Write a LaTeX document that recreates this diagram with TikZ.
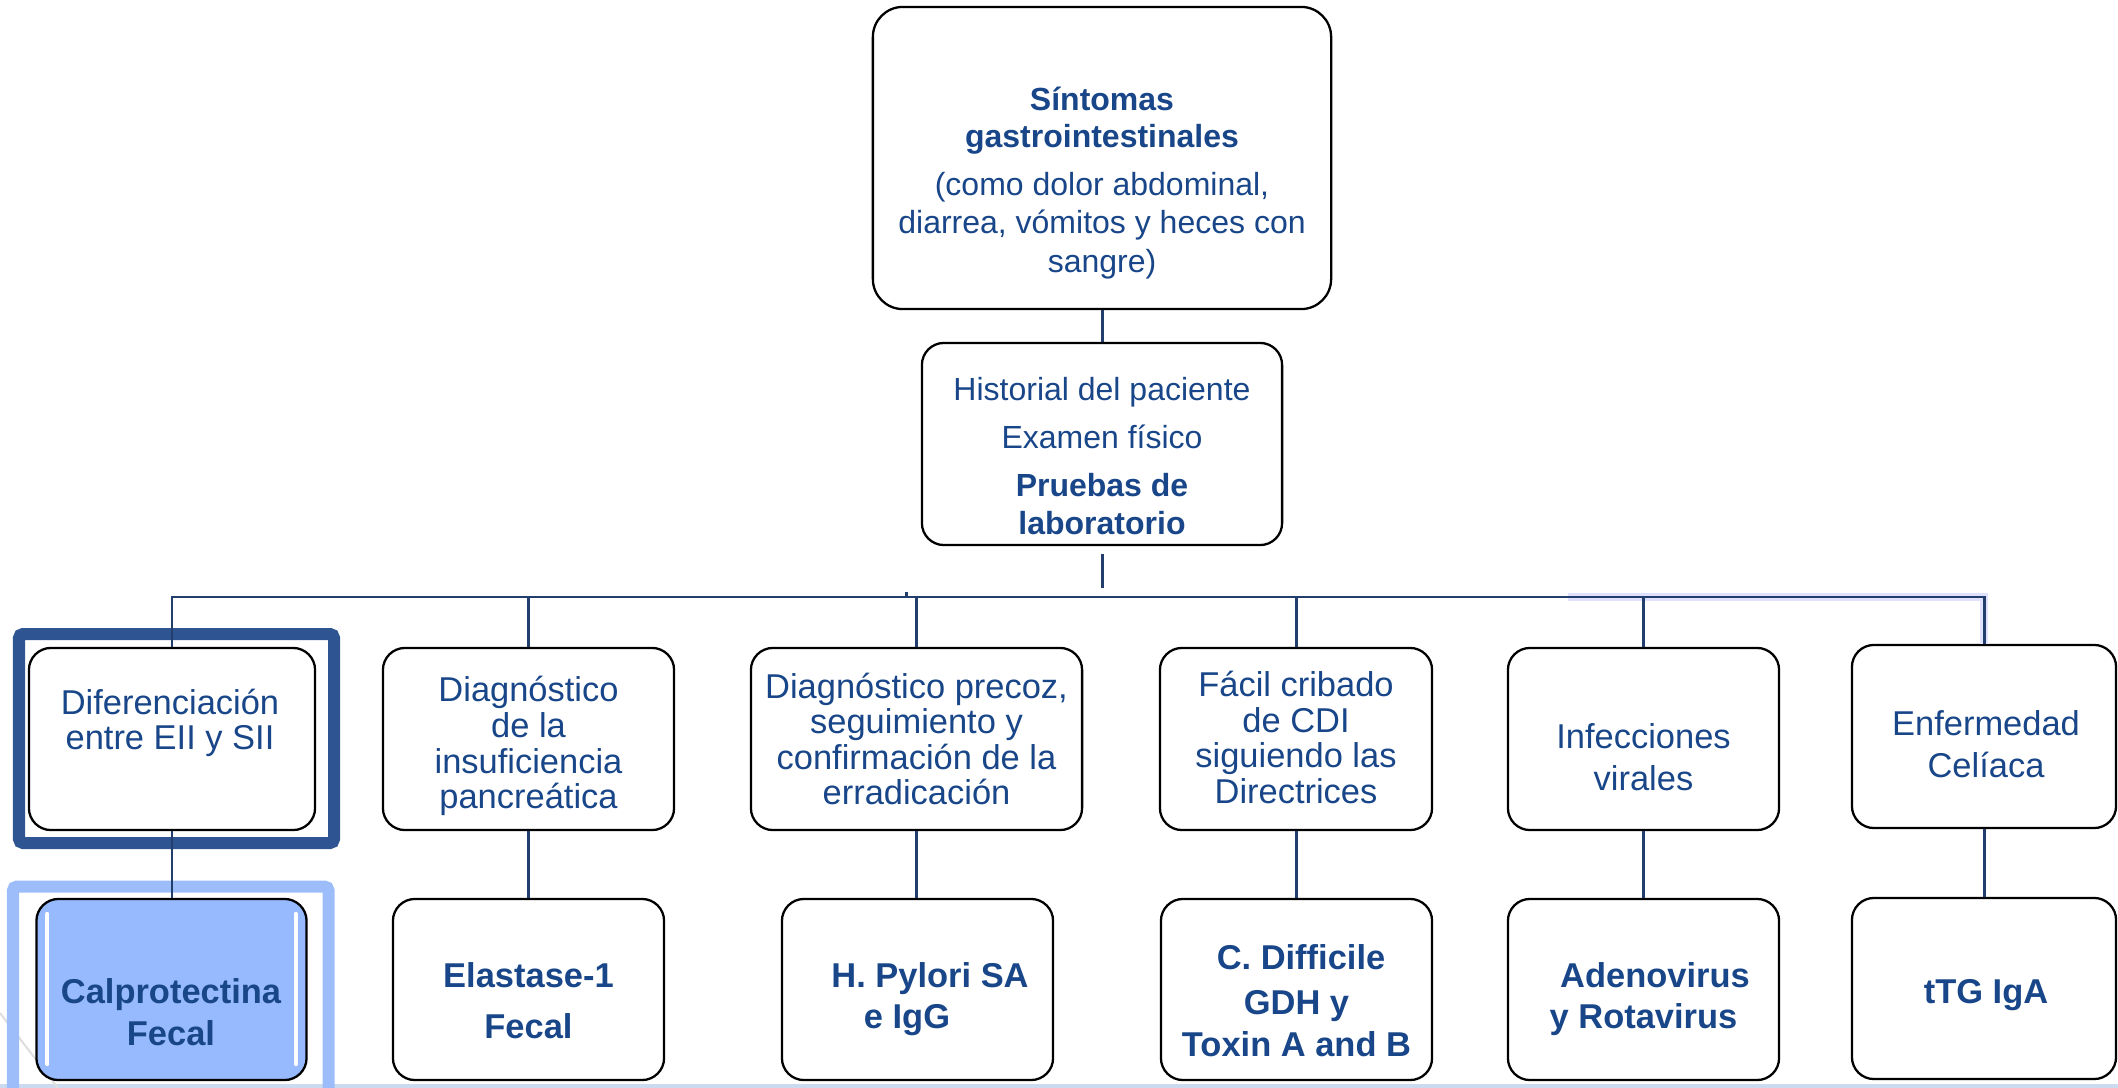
\documentclass[tikz,border=0pt]{standalone}
\usepackage{fontspec}
\setmainfont{Liberation Sans}
\usepackage{tikz}
\definecolor{txtblue}{RGB}{24,70,136}
\definecolor{linkblue}{RGB}{34,62,108}
\definecolor{framedark}{RGB}{46,84,146}
\definecolor{framelight}{RGB}{156,189,250}
\definecolor{calpfill}{RGB}{150,186,253}
\definecolor{stripblue}{RGB}{203,218,238}

\begin{document}
\begin{tikzpicture}[x=0.01cm,y=-0.01cm,
	box/.style={draw=black,line width=0.65pt,rounded corners=0.22cm,inner sep=0pt},
	midbox/.style={box,minimum height=1.82cm},
	botbox/.style={box,minimum height=1.81cm},
	txt/.style={text=txtblue,align=center,inner sep=0pt,font=\fontsize{9.8}{10.2}\selectfont},
	bold/.style={txt,font=\fontsize{9.8}{12}\selectfont\bfseries},
	link/.style={draw=linkblue,line width=0.85pt}]
		\useasboundingbox (0,0) rectangle (2118,1088);
		\fill[stripblue] (0,1084) rectangle (2118,1088);
		\draw[gray!25,line width=0.6pt] (0,1013) -- (58,1088);
		\draw[framedark,line width=0.12cm,rounded corners=0.04cm] (19,634) rectangle (334,843);
		\draw[framelight,line width=0.12cm,rounded corners=0.04cm] (13,1088) -- (13,886.5) -- (328.5,886.5) -- (328.5,1088);
		\node[box,minimum width=4.58cm,minimum height=3.02cm,rounded corners=0.3cm] (sint) at (1102,158) {};
		\node[box,minimum width=3.6cm,minimum height=2.02cm] (hist) at (1102,444) {};
		\node[midbox,minimum width=2.86cm] (dif) at (172,739) {};
		\node[midbox,minimum width=2.91cm] (pan) at (528.5,739) {};
		\node[midbox,minimum width=3.31cm] (hpy) at (916.5,739) {};
		\node[midbox,minimum width=2.72cm] (cdi) at (1296,739) {};
		\node[midbox,minimum width=2.71cm] (vir) at (1643.5,739) {};
		\node[midbox,minimum width=2.64cm,minimum height=1.83cm] (cel) at (1984,736.5) {};
		\node[botbox,minimum width=2.70cm,fill=calpfill] (calp) at (171.5,989.5) {};
		\node[botbox,minimum width=2.71cm] (ela) at (528.5,989.5) {};
		\node[botbox,minimum width=2.71cm] (hpsa) at (917.5,989.5) {};
		\node[botbox,minimum width=2.71cm] (gdh) at (1296.5,989.5) {};
		\node[botbox,minimum width=2.71cm] (rota) at (1643.5,989.5) {};
		\node[botbox,minimum width=2.64cm] (ttg) at (1984,988.5) {};
		\draw[white,line width=0.04cm,line cap=round] ([xshift=0.12cm,yshift=-0.16cm]calp.north west) -- ([xshift=0.12cm,yshift=0.17cm]calp.south west);
		\draw[white,line width=0.04cm,line cap=round] ([xshift=-0.12cm,yshift=-0.16cm]calp.north east) -- ([xshift=-0.12cm,yshift=0.17cm]calp.south east);
		\coordinate (bus) at (0,597);
		\draw[link] (sint) -- (hist);
		\draw[link,shorten <=0.08cm,shorten >=0.09cm] (hist.south) -- (hist.south |- bus);
		\draw[blue!12,line width=0.08cm] (1568,597) -- (cel.north |- bus) -- (cel.north);
		\draw[link] (dif.north) -- (dif.north |- bus) -- (cel.north |- bus) -- (cel.north);
		\foreach \n in {pan,hpy,cdi,vir}
			\draw[link] (\n.north) -- (\n.north |- bus);
		\draw[link] ([xshift=-0.1cm]hpy.north |- bus) -- ++(0,-5);
		\foreach \a/\b in {dif/calp,pan/ela,hpy/hpsa,cdi/gdh,vir/rota,cel/ttg}
			\draw[link] (\a.south) -- (\a.south |- \b.north);
		\node[txt,font=\fontsize{9.1}{11}\selectfont] (sintT) at (1102,183) {\textbf{Síntomas}\\[-0.5pt]\textbf{gastrointestinales}\\[2.6pt](como dolor abdominal,\\diarrea, vómitos y heces con\\sangre)};
		\node[txt,font=\fontsize{9.1}{10.8}\selectfont] (histT) at (1102,456.5) {Historial del paciente\\[2.6pt]Examen físico\\[3.1pt]\textbf{Pruebas de}\\\textbf{laboratorio}};
		\node[txt,font=\fontsize{9.8}{10}\selectfont] (difT) at (170,722.5) {Diferenciación\\entre EII y SII};
		\node[txt] (panT) at (528.5,746) {Diagnóstico\\de la\\insuficiencia\\pancreática};
		\node[txt,font=\fontsize{9.8}{10}\selectfont] (hpyT) at (916.5,739) {Diagnóstico precoz,\\seguimiento y\\confirmación de la\\erradicación};
		\node[txt] (cdiT) at (1296,737.5) {Fácil cribado\\de CDI\\siguiendo las\\Directrices};
		\node[txt,font=\fontsize{9.8}{12}\selectfont] (virT) at (1643.5,757.5) {Infecciones\\virales};
		\node[txt,font=\fontsize{9.8}{12}\selectfont] (celT) at (1986,744.5) {Enfermedad\\Celíaca};
		\node[bold] (calpT) at (171,1012.5) {Calprotectina\\Fecal};
		\node[bold,font=\fontsize{9.8}{14.5}\selectfont\bfseries] (elaT) at (528.5,1001) {Elastase-1\\Fecal};
		\node[bold,font=\fontsize{9.8}{11.7}\selectfont\bfseries] (hpsaT) at (917.5,999.5) {\hspace*{0.25cm}H. Pylori SA\\e IgG\hspace*{0.21cm}};
		\node[bold] (gdhT) at (1296.5,1000.5) {\hspace*{0.09cm}C. Difficile\\[0.8pt]GDH y\hspace*{0.43cm}\\Toxin A and B};
		\node[bold,font=\fontsize{9.8}{11.7}\selectfont\bfseries] (rotaT) at (1643.5,999.5) {\hspace*{0.23cm}Adenovirus\\y Rotavirus};
		\node[bold] (ttgT) at (1986,995) {tTG IgA};
	\end{tikzpicture}
\end{document}
